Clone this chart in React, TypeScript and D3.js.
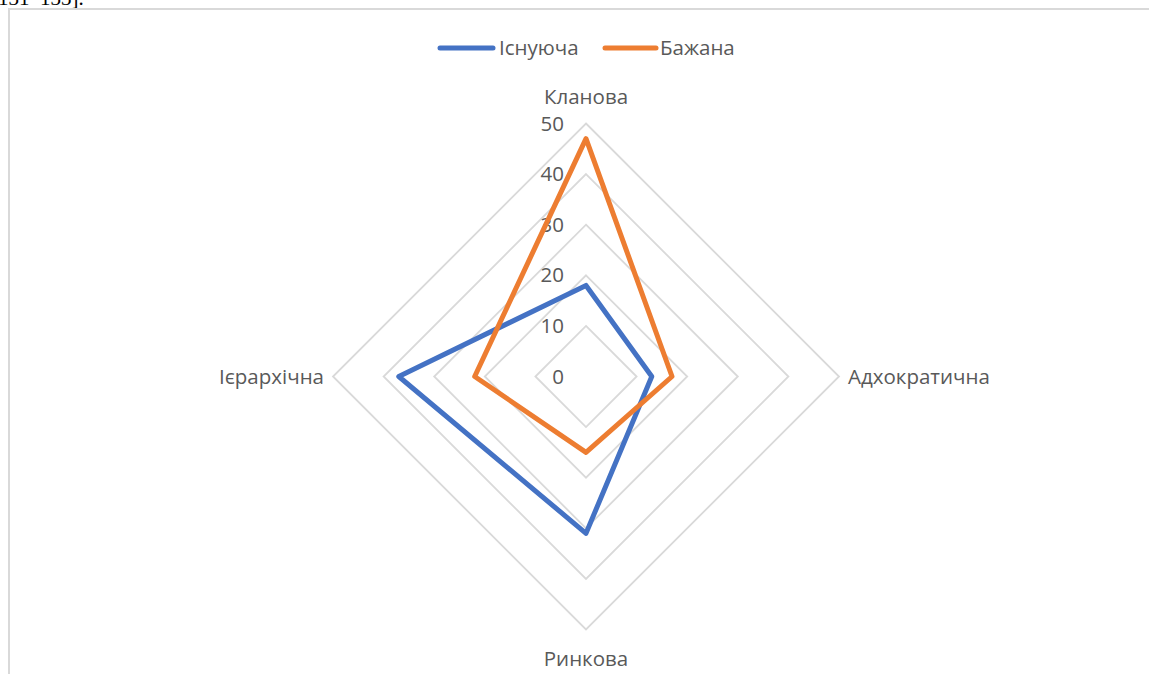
import { useEffect, useRef } from 'react';
import * as d3 from 'd3';

const axes = ['Кланова', 'Адхократична', 'Ринкова', 'Ієрархічна'];
const seriesNames = ['Існуюча', 'Бажана'];
const existing = [18, 13, 31, 37];
const desired = [47, 17, 15, 22];
const ticks = [0, 10, 20, 30, 40, 50];
const colors = ['#4472c4', '#ed7d31'];

const App = () => {
  const ref = useRef<SVGSVGElement>(null);

  useEffect(() => {
    const svg = d3.select(ref.current);
    svg.selectAll('*').remove();
    const cx = 586;
    const cy = 376.5;
    const radius = 253;
    const font = 'Open Sans, Liberation Sans, sans-serif';
    const fs = 20.5;
    const grey = '#595959';

    // frame + text cut off above it
    svg.append('text').text('131–133].')
      .attr('x', -2).attr('y', 5)
      .attr('font-family', 'Liberation Serif, Times New Roman, serif')
      .attr('font-size', 21).attr('fill', '#000');
    svg.append('rect')
      .attr('x', 9).attr('y', 9).attr('width', 1200).attr('height', 700)
      .attr('fill', '#fff').attr('stroke', '#d9d9d9').attr('stroke-width', 2);

    const r = d3.scaleLinear().domain([0, 50]).range([0, radius]);
    const angle = d3.scalePoint<string>().domain(axes).range([0, 2 * Math.PI * 3 / 4]);

    const pt = (name: string, v: number): [number, number] => {
      const a = angle(name)!;
      return [cx + r(v) * Math.sin(a), cy - r(v) * Math.cos(a)];
    };

    const closed = d3.line().curve(d3.curveLinearClosed);

    const g = svg.append('g');
    // rings
    ticks.filter(t => t > 0).forEach(t => {
      g.append('path')
        .attr('d', closed(axes.map(a => pt(a, t))))
        .attr('fill', 'none').attr('stroke', '#d9d9d9').attr('stroke-width', 1.8);
    });

    // tick labels
    ticks.forEach(t => {
      g.append('text').text(t)
        .attr('x', cx - 22).attr('y', cy - r(t))
        .attr('dy', '0.35em').attr('text-anchor', 'end')
        .attr('font-family', font).attr('font-size', fs).attr('fill', grey);
    });

    // series
    [existing, desired].forEach((vals, i) => {
      g.append('path')
        .attr('d', closed(axes.map((a, j) => pt(a, vals[j]))))
        .attr('fill', 'none').attr('stroke', colors[i])
        .attr('stroke-width', 5).attr('stroke-linejoin', 'round');
    });

    // category labels
    const lab = (name: string, x: number, y: number, anchor: string) =>
      g.append('text').text(name).attr('x', x).attr('y', y)
        .attr('dy', '0.35em').attr('text-anchor', anchor)
        .attr('font-family', font).attr('font-size', fs).attr('fill', grey);
    lab(axes[0], cx, cy - radius - 27, 'middle');
    lab(axes[1], cx + radius + 9, cy, 'start');
    lab(axes[2], cx, cy + radius + 29, 'middle');
    lab(axes[3], cx - radius - 9, cy, 'end');

    // legend
    const legend = [
      { x1: 440, x2: 493, tx: 499 },
      { x1: 605, x2: 656, tx: 660 },
    ];
    legend.forEach((l, i) => {
      g.append('line')
        .attr('x1', l.x1).attr('x2', l.x2).attr('y1', 48).attr('y2', 48)
        .attr('stroke', colors[i]).attr('stroke-width', 5).attr('stroke-linecap', 'round');
      g.append('text').text(seriesNames[i])
        .attr('x', l.tx).attr('y', 48).attr('dy', '0.35em')
        .attr('font-family', font).attr('font-size', fs).attr('fill', grey);
    });
  }, []);

  return (
    <svg ref={ref} width={1149} height={674}
      style={{ position: 'absolute', left: 0, top: 0, overflow: 'hidden' }} />
  );
};

export default App;
